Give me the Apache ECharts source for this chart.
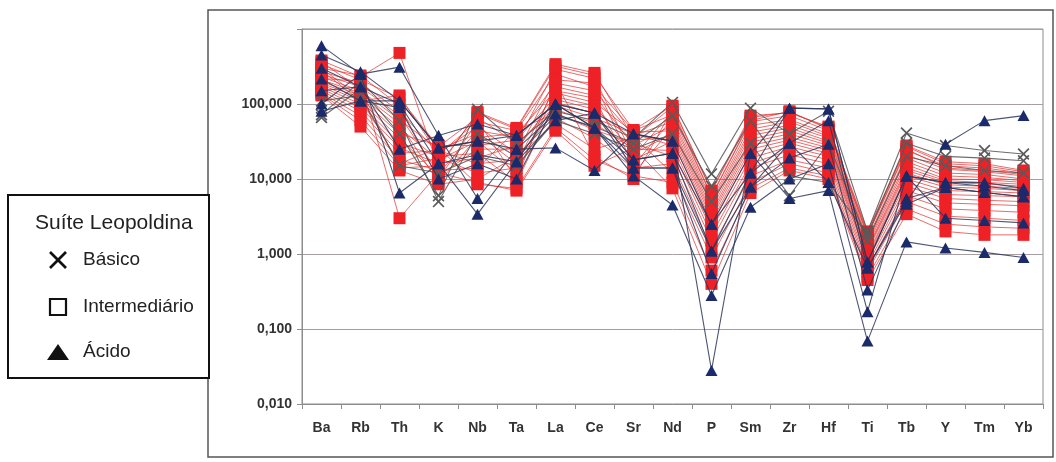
<!DOCTYPE html>
<html>
<head>
<meta charset="utf-8">
<script src="https://cdn.jsdelivr.net/npm/echarts@6/dist/echarts.min.js"></script>
<style>
html,body{margin:0;padding:0;background:#fff;}
#c{width:1056px;height:462px;}
</style>
</head>
<body>
<div id="c"></div>
<script>
// Elements (x axis categories)
const categories = ['Ba','Rb','Th','K','Nb','Ta','La','Ce','Sr','Nd','P','Sm','Zr','Hf','Ti','Tb','Y','Tm','Yb'];

// Y axis ticks (log scale)
const yTicks = [0.01, 0.1, 1, 10, 100, 1000];

// Suíte Leopoldina – Básico (X)
const basico1 = [66, 160, 40, 6, 85, 30, 80, 60, 35, 105, 11.7, 88, 40, 80, 2.0, 41, 28, 24, 21.5];
const basico2 = [72, 200, 60, 5, 40, 20, 70, 50, 30, 70, 8, 60, 11, 9, 1.8, 30, 20, 19, 17.5];
const basico3 = [110, 130, 15, 12, 20, 15, 60, 40, 25, 40, 5, 30, 6, 30, 1.5, 20, 15, 13, 12];

// Suíte Leopoldina – Intermediário (squares)
const inter1  = [380, 230, 480, 14, 78, 48, 340, 260, 35, 92, 6.8, 66, 78, 48, 1.9, 27, 16, 15, 12.5];
const inter2  = [340, 210, 120, 27, 66, 30, 290, 220, 20, 80, 5.8, 58, 70, 44, 1.75, 24, 15, 14, 12];
const inter3  = [300, 240, 95, 10, 58, 44, 250, 170, 44, 72, 5.2, 52, 62, 40, 1.6, 21, 13.5, 12.5, 11];
const inter4  = [270, 190, 80, 22, 50, 22, 210, 190, 15, 64, 4.8, 46, 58, 37, 1.5, 19, 12, 11.5, 10];
const inter5  = [250, 170, 70, 12, 44, 36, 190, 150, 38, 58, 4.4, 42, 52, 35, 1.4, 17, 11, 10.5, 9.5];
const inter6  = [230, 150, 62, 25, 40, 16, 170, 130, 28, 52, 4.0, 38, 48, 32, 1.3, 15.5, 10, 9.8, 9];
const inter7  = [210, 140, 55, 9, 36, 40, 150, 120, 12, 48, 3.6, 34, 44, 30, 1.2, 14, 9.5, 9, 8.5];
const inter8  = [200, 130, 48, 18, 32, 12, 140, 105, 42, 44, 3.3, 31, 40, 28, 1.15, 13, 9, 8.6, 8];
const inter9  = [190, 120, 40, 28, 28, 33, 125, 95, 22, 40, 3.0, 28, 36, 26, 1.1, 12, 8.4, 8, 7.5];
const inter10 = [180, 110, 35, 11, 25, 25, 115, 85, 33, 36, 2.7, 25, 33, 24, 1.0, 11, 7.8, 7.5, 7];
const inter11 = [170, 100, 30, 20, 22, 9, 105, 75, 18, 32, 2.4, 22, 30, 22, 0.95, 10, 7, 6.8, 6.5];
const inter12 = [160, 90, 26, 16, 19, 28, 95, 65, 40, 28, 2.1, 19, 27, 20, 0.9, 9, 6.2, 6, 5.8];
const inter13 = [150, 80, 22, 24, 16, 18, 85, 55, 25, 24, 1.8, 16, 24, 18, 0.8, 8, 5.5, 5.2, 5];
const inter14 = [140, 70, 18, 13, 14, 45, 75, 45, 30, 20, 1.5, 14, 21, 16, 0.72, 7, 4.8, 4.6, 4.4];
const inter15 = [135, 60, 15, 19, 12, 14, 65, 35, 14, 16, 1.2, 11, 18, 14, 0.65, 6, 4, 3.8, 3.6];
const inter16 = [130, 50, 13, 8.5, 10, 20, 55, 25, 36, 12, 0.9, 9, 16, 12, 0.58, 5, 3.2, 3, 2.8];
const inter17 = [300, 120, 16, 26, 8.5, 7.5, 48, 18, 11, 9, 0.6, 7.5, 14, 11, 0.5, 4, 2.5, 2.3, 2.2];
const inter18 = [220, 200, 3, 12, 9, 7, 44, 15, 26, 7.5, 0.4, 6.5, 13, 10, 0.45, 3.4, 2.0, 1.8, 1.8];
const inter19 = [360, 160, 14, 15, 75, 46, 320, 240, 45, 95, 7, 70, 76, 50, 2, 28, 17, 16, 13];
const inter20 = [280, 110, 130, 21, 60, 10, 200, 20, 10, 85, 6, 60, 80, 46, 1.8, 25, 14, 13, 11.5];

// Suíte Leopoldina – Ácido (triangles)
const acido1 = [600, 250, 310, 38, 54, 38, 100, 76, 40, 32, 2.5, 22, 88, 86, 0.78, 11, 9, 9, 7.5];
const acido2 = [450, 270, 110, 26, 32, 25, 74, 48, 18, 22, 1.1, 12, 30, 60, 0.65, 5.0, 29, 60, 70];
const acido3 = [300, 170, 100, 16, 21, 17, 60, 76, 14, 14, 0.55, 7.8, 19, 29, 0.33, 4.6, 7.7, 6.6, 5.8];
const acido4 = [215, 110, 90, 10, 16, 10, 100, 48, 11, 4.5, 0.28, 4.2, 10, 16, 0.17, 11, 3.0, 2.8, 2.6];
const acido5 = [150, 170, 25, 38, 5.5, 25, 26, 13, 40, 32, 0.028, 22, 5.5, 7, 0.069, 1.45, 1.2, 1.05, 0.9];
const acido6 = [100, 250, 6.5, 16, 3.4, 17, 100, 76, 18, 22, 2.5, 12, 88, 86, 0.78, 11, 9, 8, 7];
const acido7 = [80, 110, 110, 26, 32, 38, 100, 48, 14, 14, 1.1, 7.8, 30, 9, 0.65, 5.5, 7.7, 6.6, 5.8];

const basicoSeries = [basico1, basico2, basico3];
const interSeries = [inter1, inter2, inter3, inter4, inter5, inter6, inter7, inter8, inter9, inter10,
  inter11, inter12, inter13, inter14, inter15, inter16, inter17, inter18, inter19, inter20];
const acidoSeries = [acido1, acido2, acido3, acido4, acido5, acido6, acido7];

const X_PATH = 'path://M0,1L1,0L5,4L9,0L10,1L6,5L10,9L9,10L5,6L1,10L0,9L4,5Z';

const series = [];
interSeries.forEach((d) => series.push({
  name: 'Intermediário', type: 'line', data: d, z: 2,
  symbol: 'rect', symbolSize: 12,
  itemStyle: { color: '#ee2126' },
  lineStyle: { color: 'rgba(226,44,44,0.7)', width: 1 },
  emphasis: { disabled: true }, animation: false
}));
basicoSeries.forEach((d) => series.push({
  name: 'Básico', type: 'line', data: d, z: 3,
  symbol: X_PATH, symbolSize: 12,
  itemStyle: { color: '#5a5a5a' },
  lineStyle: { color: 'rgba(85,85,85,0.85)', width: 1.1 },
  emphasis: { disabled: true }, animation: false
}));
acidoSeries.forEach((d) => series.push({
  name: 'Ácido', type: 'line', data: d, z: 4,
  symbol: 'triangle', symbolSize: [12, 11],
  itemStyle: { color: '#1b2a6b' },
  lineStyle: { color: 'rgba(45,55,90,0.85)', width: 1.1 },
  emphasis: { disabled: true }, animation: false
}));

const chart = echarts.init(document.getElementById('c'), null, { renderer: 'canvas' });
chart.setOption({
  animation: false,
  backgroundColor: '#fff',
  grid: { left: 302, right: 13, top: 29, bottom: 58, show: true, borderColor: '#8d8d8d', borderWidth: 1 },
  xAxis: {
    type: 'category', data: categories, boundaryGap: true,
    axisLine: { lineStyle: { color: '#8d8d8d', width: 1 } },
    axisTick: { show: true, length: 5, lineStyle: { color: '#8d8d8d' } },
    axisLabel: { margin: 17, fontFamily: 'Liberation Sans', fontWeight: 'bold', fontSize: 14, color: '#333' },
    splitLine: { show: false }
  },
  yAxis: {
    type: 'log', logBase: 10, min: yTicks[0], max: yTicks[yTicks.length - 1],
    axisLine: { show: true, lineStyle: { color: '#8d8d8d' } },
    axisTick: { show: true, inside: false, length: 5, lineStyle: { color: '#8d8d8d' } },
    axisLabel: {
      margin: 10, fontFamily: 'Liberation Sans', fontWeight: 'bold', fontSize: 14, color: '#333',
      formatter: v => (v >= 999 ? '' : Number(v).toFixed(3).replace('.', ','))
    },
    splitLine: { show: true, lineStyle: { color: '#a79f9f', width: 1 } }
  },
  series: series,
  graphic: [
    { type: 'rect', shape: { x: 208, y: 10, width: 845, height: 447 }, style: { fill: 'none', stroke: '#555', lineWidth: 1.5 }, z: 0, silent: true },
    { type: 'group', z: 100, children: [
      { type: 'rect', shape: { x: 8, y: 195, width: 201, height: 183 }, style: { fill: '#fff', stroke: '#111', lineWidth: 2 } },
      { type: 'text', style: { x: 35, y: 223, text: 'Suíte Leopoldina', font: '21px "Liberation Sans", Arial, sans-serif', fill: '#222', textVerticalAlign: 'middle' } },
      { type: 'line', shape: { x1: 50, y1: 252, x2: 66, y2: 268 }, style: { stroke: '#111', lineWidth: 2.6 } },
      { type: 'line', shape: { x1: 66, y1: 252, x2: 50, y2: 268 }, style: { stroke: '#111', lineWidth: 2.6 } },
      { type: 'text', style: { x: 83, y: 260, text: 'Básico', font: '19px "Liberation Sans", Arial, sans-serif', fill: '#222', textVerticalAlign: 'middle' } },
      { type: 'rect', shape: { x: 50, y: 299, width: 16, height: 16 }, style: { fill: 'none', stroke: '#111', lineWidth: 2.2 } },
      { type: 'text', style: { x: 83, y: 307, text: 'Intermediário', font: '19px "Liberation Sans", Arial, sans-serif', fill: '#222', textVerticalAlign: 'middle' } },
      { type: 'polygon', shape: { points: [[47, 360], [58, 344], [69, 360]] }, style: { fill: '#111' } },
      { type: 'text', style: { x: 83, y: 352, text: 'Ácido', font: '19px "Liberation Sans", Arial, sans-serif', fill: '#222', textVerticalAlign: 'middle' } }
    ]}
  ]
});
</script>
</body>
</html>
